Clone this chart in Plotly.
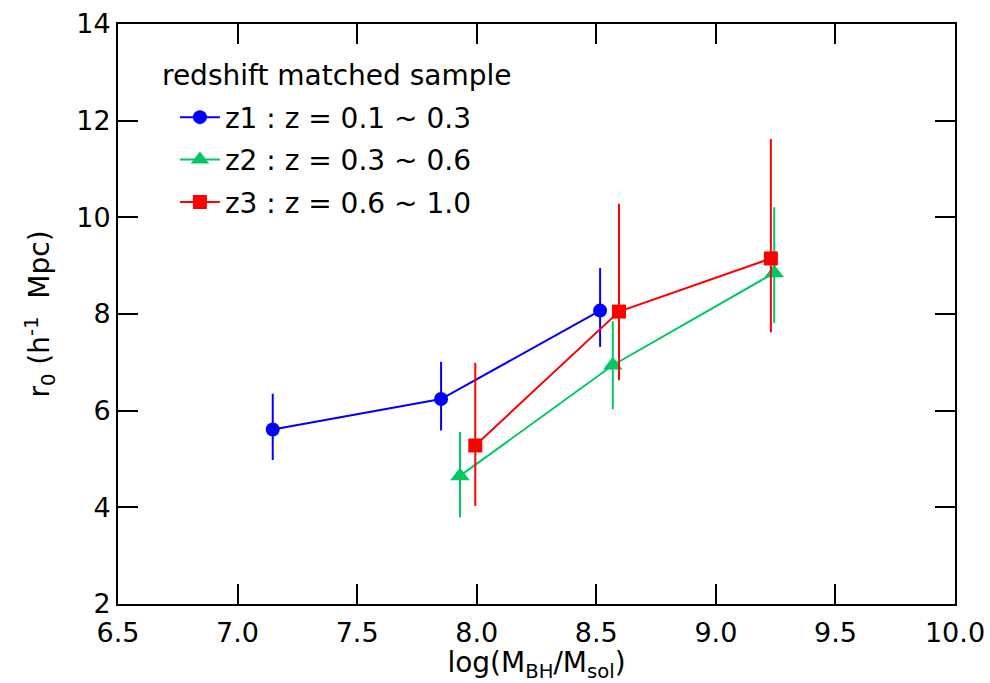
import plotly.graph_objects as go

# data
z1_x = [7.147, 7.851, 8.516]
z1_y = [5.61, 6.24, 8.07]
z1_up = [0.74, 0.77, 0.88]
z1_dn = [0.63, 0.65, 0.75]

z2_x = [7.930, 8.569, 9.244]
z2_y = [4.65, 6.94, 8.85]
z2_up = [0.91, 0.91, 1.36]
z2_dn = [0.86, 0.91, 1.04]

z3_x = [7.994, 8.595, 9.230]
z3_y = [5.28, 8.05, 9.15]
z3_up = [1.71, 2.23, 2.47]
z3_dn = [1.25, 1.42, 1.53]

names = ["z1 : z = 0.1 ~ 0.3", "z2 : z = 0.3 ~ 0.6", "z3 : z = 0.6 ~ 1.0"]
colors = ["#0000ff", "#00c864", "#ff0000"]
symbols = ["circle", "triangle-up", "square"]
legend_title = "redshift matched sample"

x_ticks = [6.5, 7.0, 7.5, 8.0, 8.5, 9.0, 9.5, 10.0]
y_ticks = [2, 4, 6, 8, 10, 12, 14]

series = [
    (z1_x, z1_y, z1_up, z1_dn),
    (z2_x, z2_y, z2_up, z2_dn),
    (z3_x, z3_y, z3_up, z3_dn),
]

FONT = "DejaVu Sans"
FS = 28

fig = go.Figure()
for i, ((xs, ys, up, dn), nm, c, s) in enumerate(zip(series, names, colors, symbols)):
    fig.add_trace(go.Scatter(
        x=xs, y=ys, name=nm, mode="lines+markers", legendgroup=f"g{i}",
        line=dict(color=c, width=2),
        marker=dict(symbol=s, size=14 if s != "triangle-up" else 17, color=c),
        error_y=dict(type="data", symmetric=False, array=up, arrayminus=dn,
                     color=c, thickness=2, width=0),
    ))

axis_common = dict(
    showline=True, linecolor="black", linewidth=2, mirror="ticks",
    ticks="inside", ticklen=20, tickwidth=1.5, tickcolor="black",
    showgrid=False, zeroline=False, automargin=False,
    tickfont=dict(family=FONT, size=27, color="black"),
)

fig.update_layout(
    template="none",
    width=990, height=683,
    margin=dict(l=118, r=35, t=24, b=79, autoexpand=False),
    paper_bgcolor="white", plot_bgcolor="white",
    font=dict(family=FONT, color="black"),
    xaxis=dict(range=[6.5, 10.0], tickvals=x_ticks,
               ticktext=[f"{v:.1f}" for v in x_ticks],
               ticklabelstandoff=4,
               title=dict(text="log(M<sub>BH</sub>/M<sub>sol</sub>)",
                          font=dict(family=FONT, size=28), standoff=4),
               **axis_common),
    yaxis=dict(range=[2, 14], tickvals=y_ticks,
               title=dict(text="r<sub>0</sub> (h<sup>-1</sup>\u00a0\u00a0Mpc)",
                          font=dict(family=FONT, size=28), standoff=18),
               **axis_common),
    legend=dict(
        x=0.068, y=0.882, xanchor="left", yanchor="top",
        bgcolor="rgba(0,0,0,0)", borderwidth=0,
        font=dict(family=FONT, size=FS, color="black"),
        tracegroupgap=3, itemwidth=40,
    ),
    annotations=[dict(
        text=legend_title, xref="paper", yref="paper",
        x=0.05, y=0.911, xanchor="left", yanchor="middle",
        showarrow=False, font=dict(family=FONT, size=FS, color="black"),
    )],
)

fig.write_html("out.html")
